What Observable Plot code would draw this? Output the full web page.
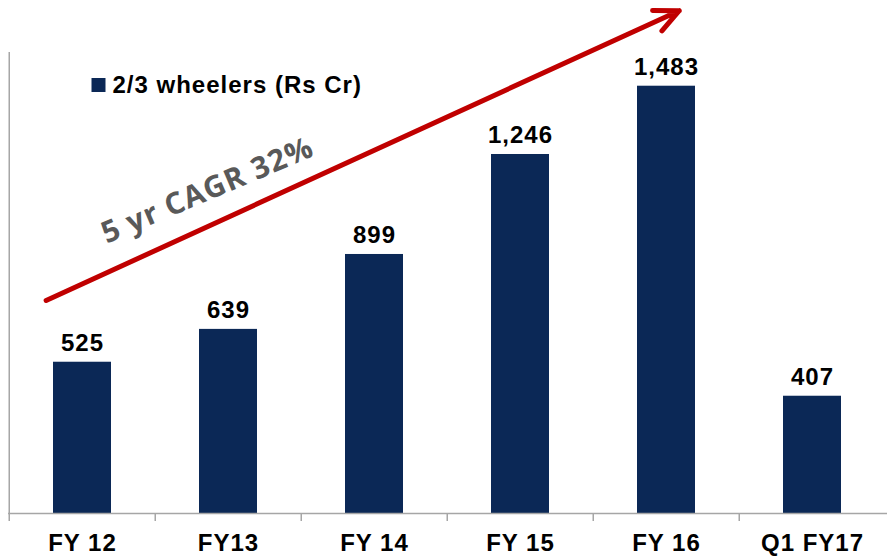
<!DOCTYPE html>
<html><head><meta charset="utf-8">
<script src="https://cdn.jsdelivr.net/npm/d3@7"></script>
<script src="https://cdn.jsdelivr.net/npm/@observablehq/plot@0.6"></script>
<style>
html,body{margin:0;padding:0;background:#fff;}
#chart svg text{letter-spacing:1px;}
</style></head><body><div id="chart"></div>
<script>
const categories = ["FY 12","FY13","FY 14","FY 15","FY 16","Q1 FY17"];
const values = [525, 639, 899, 1246, 1483, 407];
const legendLabel = "2/3 wheelers (Rs Cr)";
const cagrLabel = "5 yr CAGR 32%";
const arrowCats = ["FY 12", "FY 16"];
const arrowVals = [797, 1725];
const cagrCat = "FY13";
const cagrVal = 1121;

const data = categories.map((c, i) => ({category: c, value: values[i]}));
const W = 887, H = 556, ML = 8, MR = 0, MT = 52, MB = 43;
const step = (W - ML - MR) / categories.length;
const grey = "#a6a6a6";
const navy = "#0b2856";

const chart = Plot.plot({
  width: W, height: H,
  marginLeft: ML, marginRight: MR, marginTop: MT, marginBottom: MB,
  style: {fontFamily: "'Liberation Sans', Arial, sans-serif", color: "#000", background: "#fff", overflow: "visible"},
  x: {domain: categories, paddingInner: 0.6, paddingOuter: 0.3, axis: null, label: null},
  y: {domain: [0, 1600], axis: null},
  marks: [
    Plot.barY(data, {x: "category", y: "value", fill: navy}),
    Plot.ruleY([0], {stroke: grey, strokeWidth: 1.5}),
    Plot.ruleX([categories[0]], {x: d => d, dx: -step / 2, insetBottom: -8, stroke: grey, strokeWidth: 1.5}),
    Plot.ruleX(categories.slice(1), {x: d => d, dx: -step / 2, insetTop: H - MT - MB, insetBottom: -8, stroke: grey, strokeWidth: 1.5}),
    Plot.axisX({tickSize: 0, tickPadding: 20, fontSize: 24, fontWeight: "bold", fill: "#000", label: null}),
    Plot.text(data, {x: "category", y: "value", text: d => d3.format(",")(d.value), lineAnchor: "bottom", dy: -11, fontSize: 24, fontWeight: "bold", fill: "#000"}),
    Plot.arrow([0], {x1: () => arrowCats[0], y1: () => arrowVals[0], x2: () => arrowCats[1], y2: () => arrowVals[1],
      stroke: "#c00000", strokeWidth: 5, headAngle: 50, insetStart: -40, insetEnd: -14}),
    Plot.text([cagrLabel], {x: () => cagrCat, y: () => cagrVal, text: d => d, rotate: -23, dx: -21,
      fontFamily: "'Open Sans', sans-serif", fontSize: 30, fontWeight: "bold", fill: "#595959"}),
    Plot.dot([legendLabel], {frameAnchor: "top-left", dx: 90, dy: 32.5, symbol: "square", r: 7.9, fill: navy, stroke: null}),
    Plot.text([legendLabel], {frameAnchor: "top-left", text: d => d, dx: 104, dy: 40, textAnchor: "start", lineAnchor: "bottom", fontSize: 24, fontWeight: "bold", fill: "#000"})
  ]
});
document.getElementById("chart").appendChild(chart);
</script></body></html>
